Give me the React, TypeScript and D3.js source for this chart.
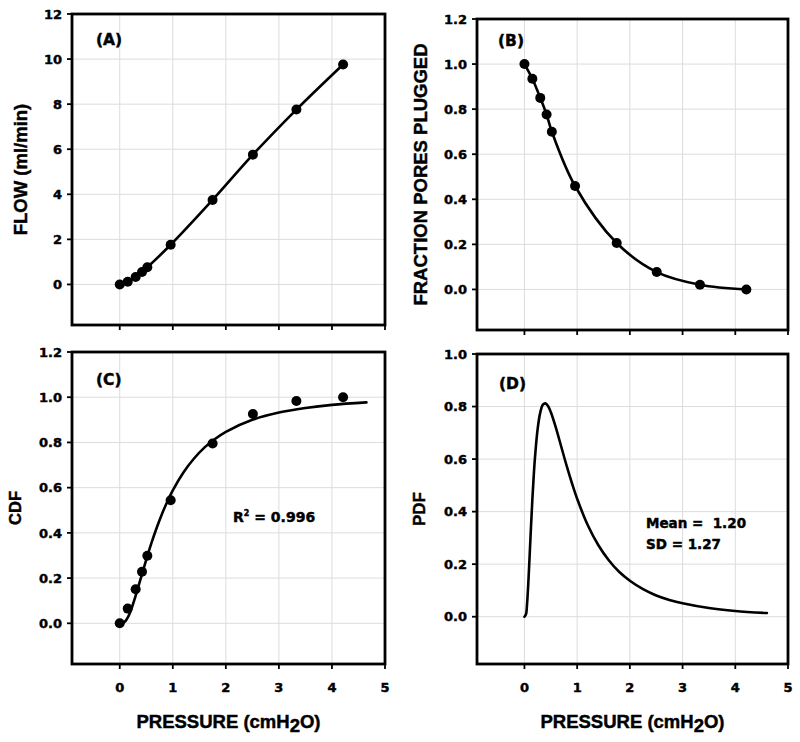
import React from "react";
import * as d3 from "d3";

// ---------- data ----------
const pressure = [0, 0.15, 0.3, 0.42, 0.52, 0.96, 1.75, 2.51, 3.33, 4.21];
const flow = [0, 0.12, 0.33, 0.55, 0.76, 1.76, 3.75, 5.76, 7.76, 9.76];
const fractionPlugged = [1.0, 0.935, 0.85, 0.776, 0.7, 0.459, 0.206, 0.077, 0.021, 0.0];
const cdfObserved = [0, 0.065, 0.151, 0.228, 0.299, 0.544, 0.795, 0.926, 0.983, 1.0];

const cdfFitX = [0, 0.05, 0.1, 0.15, 0.2, 0.3, 0.4, 0.5, 0.6, 0.7, 0.8, 0.9, 1.0, 1.2, 1.4, 1.6, 1.8, 2.0, 2.5, 3.0, 3.5, 4.0, 4.65];
const cdfFitY = [0, 0.001, 0.008, 0.025, 0.051, 0.122, 0.202, 0.282, 0.357, 0.425, 0.486, 0.54, 0.588, 0.667, 0.729, 0.778, 0.816, 0.847, 0.9, 0.932, 0.952, 0.966, 0.977];

const pdfFitX = [0, 0.03, 0.05, 0.06, 0.07, 0.08, 0.09, 0.1, 0.125, 0.15, 0.175, 0.2, 0.25, 0.3, 0.35, 0.4, 0.45, 0.5, 0.6, 0.7, 0.8, 0.9, 1.0, 1.2, 1.4, 1.6, 1.8, 2.0, 2.25, 2.5, 2.75, 3.0, 3.5, 4.0, 4.6];
const pdfFitY = [0, 0.01, 0.05, 0.08, 0.115, 0.154, 0.196, 0.238, 0.345, 0.445, 0.532, 0.606, 0.714, 0.777, 0.807, 0.812, 0.801, 0.779, 0.717, 0.646, 0.575, 0.509, 0.449, 0.349, 0.273, 0.215, 0.17, 0.137, 0.105, 0.081, 0.064, 0.051, 0.033, 0.022, 0.014];

const xTicks = [0, 1, 2, 3, 4, 5];
const flowTicks = [0, 2, 4, 6, 8, 10, 12];
const fractionTicks = [0, 0.2, 0.4, 0.6, 0.8, 1.0, 1.2];
const pdfTicks = [0, 0.2, 0.4, 0.6, 0.8, 1.0];

const xTitle = "PRESSURE (cmH";
const r2Text = "0.996";
const meanText = "Mean =  1.20";
const sdText = "SD = 1.27";

// ---------- layout ----------
const W = 800;
const H = 742;
const TICK_FONT = "'DejaVu Sans', Verdana, sans-serif";
const TITLE_FONT = "'Liberation Sans', Arial, sans-serif";
const GRID = "#dcdcdc";
const heavy = { stroke: "#000", strokeWidth: 0.45, paintOrder: "stroke" } as React.CSSProperties;

type Panel = {
  id: string;
  left: number; right: number; top: number; bottom: number;
  yDomain: [number, number];
  yTicks: number[];
  fmt: (n: number) => string;
  xLabels: boolean;
  yTitle: string; yTitleX: number; yTitleSize: number;
  label: string; labelX: number; labelY: number;
};

const panels: Panel[] = [
  { id: "A", left: 72, right: 385, top: 14, bottom: 325, yDomain: [-1.8, 12], yTicks: flowTicks, fmt: d3.format("d"), xLabels: false, yTitle: "FLOW (ml/min)", yTitleX: 27, yTitleSize: 18.5, label: "(A)", labelX: 96, labelY: 45 },
  { id: "B", left: 477, right: 788, top: 19, bottom: 330, yDomain: [-0.18, 1.2], yTicks: fractionTicks, fmt: d3.format(".1f"), xLabels: false, yTitle: "FRACTION PORES PLUGGED", yTitleX: 427, yTitleSize: 18.5, label: "(B)", labelX: 498, labelY: 45.5 },
  { id: "C", left: 72, right: 385, top: 352, bottom: 664, yDomain: [-0.18, 1.2], yTicks: fractionTicks, fmt: d3.format(".1f"), xLabels: true, yTitle: "CDF", yTitleX: 21, yTitleSize: 16.5, label: "(C)", labelX: 96, labelY: 385 },
  { id: "D", left: 477, right: 788, top: 354, bottom: 664, yDomain: [-0.18, 1.0], yTicks: pdfTicks, fmt: d3.format(".1f"), xLabels: true, yTitle: "PDF", yTitleX: 425, yTitleSize: 17, label: "(D)", labelX: 499, labelY: 389 },
];

function scalesFor(p: Panel) {
  const x = d3.scaleLinear().domain([-0.9, 5]).range([p.left, p.right]);
  const y = d3.scaleLinear().domain(p.yDomain).range([p.bottom, p.top]);
  return { x, y };
}

function Frame({ p, children }: { p: Panel; children?: React.ReactNode }) {
  const { x, y } = scalesFor(p);
  const cx = (p.left + p.right) / 2;
  const cy = (p.top + p.bottom) / 2;
  return (
    <g>
      {xTicks.filter((t) => t < 5).map((t) => (
        <line key={"gx" + t} x1={x(t)} x2={x(t)} y1={p.top} y2={p.bottom} stroke={GRID} strokeWidth={1} />
      ))}
      {p.yTicks.filter((t) => t < p.yDomain[1]).map((t) => (
        <line key={"gy" + t} x1={p.left} x2={p.right} y1={y(t)} y2={y(t)} stroke={GRID} strokeWidth={1} />
      ))}
      {children}
      <rect x={p.left} y={p.top} width={p.right - p.left} height={p.bottom - p.top} fill="none" stroke="#000" strokeWidth={2.8} />
      {xTicks.map((t) => (
        <line key={"tx" + t} x1={x(t)} x2={x(t)} y1={p.bottom} y2={p.bottom + 5} stroke="#000" strokeWidth={1.8} />
      ))}
      {p.xLabels && xTicks.map((t) => (
        <text key={"lx" + t} x={x(t)} y={p.bottom + 28} textAnchor="middle" fontFamily={TICK_FONT} fontWeight="bold" fontSize={13} fill="#000" style={heavy}>{t}</text>
      ))}
      {p.yTicks.map((t) => (
        <g key={"ty" + t}>
          <line x1={p.left - 5} x2={p.left} y1={y(t)} y2={y(t)} stroke="#000" strokeWidth={1.8} />
          <text x={p.left - 10} y={y(t)} dy="0.36em" textAnchor="end" fontFamily={TICK_FONT} fontWeight="bold" fontSize={13} fill="#000" style={heavy}>{p.fmt(t)}</text>
        </g>
      ))}
      <text transform={`translate(${p.yTitleX},${cy}) rotate(-90)`} textAnchor="middle" fontFamily={TITLE_FONT} fontWeight="bold" fontSize={p.yTitleSize} fill="#000" style={heavy}>{p.yTitle}</text>
      {p.xLabels && (
        <text x={cx} y={728} textAnchor="middle" fontFamily={TITLE_FONT} fontWeight="bold" fontSize={18.5} fill="#000" style={heavy}>
          {xTitle}
          <tspan dy={3.5}>2</tspan>
          <tspan dy={-3.5}>O)</tspan>
        </text>
      )}
      <text x={p.labelX} y={p.labelY} fontFamily={TICK_FONT} fontWeight="bold" fontSize={15.5} fill="#000" style={heavy}>{p.label}</text>
    </g>
  );
}

function Series({ p, xs, ys, markers }: { p: Panel; xs: number[]; ys: number[]; markers: boolean }) {
  const { x, y } = scalesFor(p);
  const pts = xs.map((v, i) => [v, ys[i]] as [number, number]);
  const line = d3.line<[number, number]>().x((d) => x(d[0])).y((d) => y(d[1])).curve(d3.curveCatmullRom.alpha(0.5));
  return (
    <g>
      <path d={line(pts) || ""} fill="none" stroke="#000" strokeWidth={2.6} strokeLinejoin="round" strokeLinecap="round" />
      {markers && pts.map((d, i) => <circle key={i} cx={x(d[0])} cy={y(d[1])} r={5} fill="#000" />)}
    </g>
  );
}

function Markers({ p, xs, ys }: { p: Panel; xs: number[]; ys: number[] }) {
  const { x, y } = scalesFor(p);
  return <g>{xs.map((v, i) => <circle key={i} cx={x(v)} cy={y(ys[i])} r={5} fill="#000" />)}</g>;
}

export default function App() {
  const [pA, pB, pC, pD] = panels;
  return (
    <svg width={W} height={H} viewBox={`0 0 ${W} ${H}`} style={{ position: "absolute", left: 0, top: 0, background: "#fff" }}>
      <rect x={0} y={0} width={W} height={H} fill="#fff" />
      <Frame p={pA}>
        <Series p={pA} xs={pressure} ys={flow} markers={true} />
      </Frame>
      <Frame p={pB}>
        <Series p={pB} xs={pressure} ys={fractionPlugged} markers={true} />
      </Frame>
      <Frame p={pC}>
        <Series p={pC} xs={cdfFitX} ys={cdfFitY} markers={false} />
        <Markers p={pC} xs={pressure} ys={cdfObserved} />
        <text x={233} y={521.5} fontFamily={TICK_FONT} fontWeight="bold" fontSize={14} fill="#000" style={heavy}>
          R<tspan dy={-6} fontSize={8}>2</tspan><tspan dy={6}>{" = " + r2Text}</tspan>
        </text>
      </Frame>
      <Frame p={pD}>
        <Series p={pD} xs={pdfFitX} ys={pdfFitY} markers={false} />
        <text x={646} y={528} fontFamily={TICK_FONT} fontWeight="bold" fontSize={13.5} fill="#000" style={{ ...heavy, whiteSpace: "pre" }}>{meanText}</text>
        <text x={646} y={548.5} fontFamily={TICK_FONT} fontWeight="bold" fontSize={13.5} fill="#000" style={heavy}>{sdText}</text>
      </Frame>
    </svg>
  );
}
